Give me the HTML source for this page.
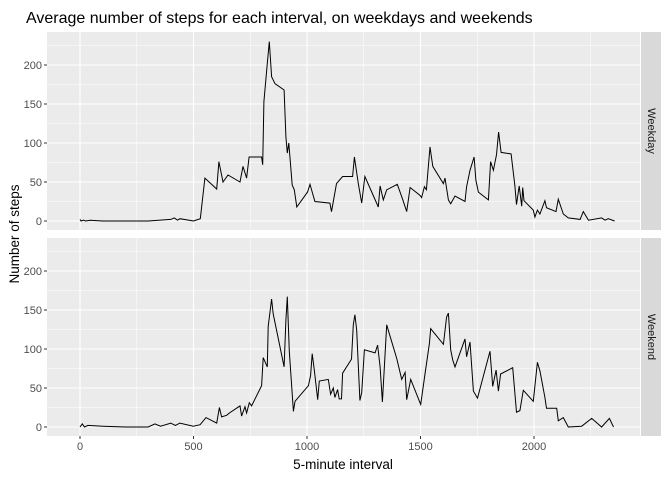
<!DOCTYPE html>
<html><head><meta charset="utf-8"><style>
body{margin:0;background:#fff;}
svg{display:block;font-family:"Liberation Sans",sans-serif;}
</style></head><body>
<svg id="chart" width="672" height="480"></svg>
<script>
const xTicks=[0,500,1000,1500,2000];
const yTicks=[0,50,100,150,200];
const panelNames=["Weekday","Weekend"];
const wkdayX=[0,5,15,25,45,100,200,300,400,415,430,440,500,530,550,602,612,630,652,705,718,734,745,800,805,810,825,834,844,859,899,907,913,920,935,944,955,1002,1013,1035,1101,1108,1130,1157,1201,1209,1226,1241,1255,1314,1322,1336,1351,1398,1421,1439,1454,1498,1505,1517,1526,1542,1554,1601,1608,1623,1633,1652,1696,1703,1718,1736,1744,1755,1799,1809,1821,1835,1844,1855,1899,1916,1923,1935,1946,1950,1956,1997,2004,2015,2026,2048,2055,2097,2107,2129,2151,2203,2217,2240,2298,2313,2327,2355];
const wkdayY=[2,0,1,0,1,0,0,0,2,4,1,3,0,3,55,41,76,50,59,50,70,55,82,82,72,153,202,230,185,176,168,108,87,100,46,40,18,37,47,25,23,12,48,57,57,82,48,23,57,18,45,27,40,47,28,12,43,33,30,44,40,95,70,48,55,27,22,32,25,44,65,82,52,37,27,76,65,85,114,88,86,45,21,45,19,43,26,14,5,14,9,26,17,12,28,9,4,2,12,1,4,1,3,0];
const wkendX=[0,10,20,35,100,200,300,330,355,400,420,440,499,529,555,602,614,624,646,658,705,712,727,734,746,756,800,807,825,829,844,851,899,907,913,922,940,947,1006,1016,1023,1032,1047,1054,1094,1104,1116,1123,1135,1142,1152,1157,1196,1204,1211,1219,1233,1241,1253,1300,1311,1322,1332,1351,1358,1395,1417,1432,1439,1457,1501,1520,1539,1545,1601,1615,1623,1633,1642,1652,1696,1703,1718,1733,1751,1806,1818,1833,1843,1853,1906,1923,1938,1953,1997,2015,2026,2048,2055,2100,2107,2129,2151,2210,2254,2298,2332,2350];
const wkendY=[0,4,0,2,1,0,0,4,1,5,2,5,1,3,12,5,25,13,15,18,27,14,26,18,31,27,53,89,77,129,164,145,77,137,167,97,20,33,53,66,94,73,35,59,61,42,50,38,48,36,36,69,87,131,144,124,34,44,99,95,105,77,32,131,124,88,61,70,35,61,29,68,107,126,106,141,146,99,86,77,113,90,109,46,37,97,52,73,46,68,76,19,21,47,33,83,72,38,24,24,8,12,0,1,11,0,11,0];
const NS="http://www.w3.org/2000/svg";
const svg=document.getElementById('chart');
function mk(t,a,p){const e=document.createElementNS(NS,t);for(const k in a)e.setAttribute(k,a[k]);(p||svg).appendChild(e);return e;}
const PX0=47,PX1=640;
function sx(v){return 80+v*0.227;}
const panels=[{top:32,bot:230,zero:221,xs:wkdayX,ys:wkdayY},{top:238,bot:436,zero:427,xs:wkendX,ys:wkendY}];
panels.forEach((p,i)=>{
  const sy=v=>p.zero-v*0.78;
  const g=mk('g',{});
  
  
  mk('rect',{x:PX0,y:p.top,width:PX1-PX0,height:p.bot-p.top,fill:'#ebebeb'},g);
  for(let k=0;k<yTicks.length;k++){const v=yTicks[k]+25;const y=sy(v);if(y>p.top)mk('line',{x1:PX0,x2:PX1,y1:y,y2:y,stroke:'#fff','stroke-width':0.5},g);}
  for(let k=0;k<xTicks.length;k++){const x=sx(xTicks[k]+250);if(x<PX1)mk('line',{x1:x,x2:x,y1:p.top,y2:p.bot,stroke:'#fff','stroke-width':0.5},g);}
  yTicks.forEach(v=>{const y=sy(v);mk('line',{x1:PX0,x2:PX1,y1:y,y2:y,stroke:'#fff','stroke-width':1.1},g);
    mk('line',{x1:PX0-3,x2:PX0,y1:y,y2:y,stroke:'#333','stroke-width':1},g);
    const t=mk('text',{x:PX0-5,y:y+4,'text-anchor':'end','font-size':11,fill:'#4d4d4d'},g);t.textContent=v;
    
    });
  xTicks.forEach(v=>{const x=sx(v);mk('line',{x1:x,x2:x,y1:p.top,y2:p.bot,stroke:'#fff','stroke-width':1.1},g);});
  const idx=p.xs.map((x,k)=>k).sort((a,b)=>p.xs[a]-p.xs[b]);
  let d='';idx.forEach((k,j)=>{d+=(j?'L':'M')+sx(p.xs[k]).toFixed(1)+','+sy(p.ys[k]).toFixed(1);});
  const path=mk('path',{d:d,fill:'none',stroke:'#000','stroke-width':1},g);
  
  
  const s=mk('rect',{x:PX1+1,y:p.top,width:20,height:p.bot-p.top,fill:'#d9d9d9'},g);
  
  
  const cy=(p.top+p.bot)/2;
  const st=mk('text',{x:PX1+11,y:cy,'text-anchor':'middle','font-size':11,fill:'#1a1a1a',transform:`rotate(90 ${PX1+11} ${cy})`,'dominant-baseline':'central'},g);
  st.textContent=panelNames[i];
  
  
});
xTicks.forEach(v=>{const x=sx(v);mk('line',{x1:x,x2:x,y1:436,y2:439,stroke:'#333'});
  const t=mk('text',{x:x,y:450,'text-anchor':'middle','font-size':11,fill:'#4d4d4d'});t.textContent=v;
  
  });
const title=mk('text',{x:26,y:23,'font-size':16,fill:'#000'});title.textContent='Average number of steps for each interval, on weekdays and weekends';


const xl=mk('text',{x:343,y:469,'text-anchor':'middle','font-size':13.5,fill:'#000'});xl.textContent='5-minute interval';


const yl=mk('text',{x:19,y:234,'text-anchor':'middle','font-size':13.5,fill:'#000',transform:'rotate(-90 19 234)'});yl.textContent='Number of steps';


</script>
</body></html>
